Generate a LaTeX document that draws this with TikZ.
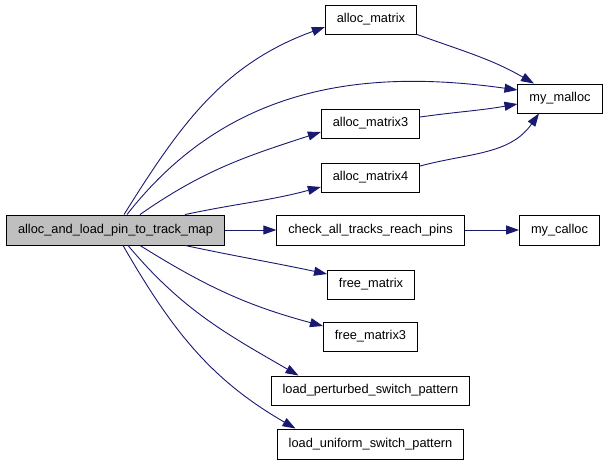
\documentclass[tikz,border=0pt]{standalone}
\usepackage{fontspec}
\setmainfont{Liberation Sans}
\usetikzlibrary{arrows.meta}
\definecolor{edgeblue}{RGB}{25,25,112}
\begin{document}
\begin{tikzpicture}[x=1pt,y=1pt,
    fn/.style={rectangle,draw,line width=0.9pt,minimum height=29pt,inner xsep=11.5pt,inner ysep=0pt,font=\fontsize{12.8}{15}\selectfont},
    call/.style={draw=edgeblue,line width=0.9pt,-{Triangle[length=13pt,width=9pt,fill=edgeblue]}}]
  \useasboundingbox (0,0) rectangle (608,464);
  \node[fn,fill=black!25,minimum height=30pt] (main) at (115.5,234) {alloc\_and\_load\_pin\_to\_track\_map};
  \node[fn] (amat) at (371,444.5) {alloc\_matrix};
  \node[fn] (malloc) at (560,365.5) {my\_malloc};
  \node[fn] (am3) at (370.5,340.5) {alloc\_matrix3};
  \node[fn] (am4) at (370.5,286.5) {alloc\_matrix4};
  \node[fn,minimum height=30pt] (check) at (370.5,234) {check\_all\_tracks\_reach\_pins};
  \node[fn,minimum height=30pt] (calloc) at (559.5,234) {my\_calloc};
  \node[fn] (fm) at (371,179.5) {free\_matrix};
  \node[fn] (fm3) at (370.5,127.5) {free\_matrix3};
  \node[fn] (lp) at (370.5,73.5) {load\_perturbed\_switch\_pattern};
  \node[fn,minimum height=30pt] (lu) at (370.5,20) {load\_uniform\_switch\_pattern};
  % calls from the main routine
  \draw[call] ([xshift=8.5pt]main.north) to[out=58,in=200] ([yshift=-7.5pt]amat.west);
  \draw[call] ([xshift=11.5pt]main.north) to[out=52,in=172] ([yshift=8.5pt]malloc.west);
  \draw[call] ([xshift=24.5pt]main.north) to[out=35,in=198] ([yshift=-8.5pt]am3.west);
  \draw[call] ([xshift=69.5pt]main.north) to[out=12,in=195] ([yshift=-9.5pt]am4.west);
  \draw[call] (main.east) -- (check.west);
  \draw[call] ([xshift=69.5pt]main.south) to[out=-12,in=168] ([yshift=10.5pt]fm.west);
  \draw[call] ([xshift=24.5pt]main.south) to[out=-32,in=165] ([yshift=10.5pt]fm3.west);
  \draw[call] ([xshift=12.5pt]main.south) to[out=-50,in=150] ([xshift=-72pt]lp.north);
  \draw[call] ([xshift=7.5pt]main.south) to[out=-60,in=150] ([xshift=-75pt]lu.north);
  % second level
  \draw[call] (amat.south east) to[out=-20,in=150] ([xshift=-26pt]malloc.north);
  \draw[call] ([yshift=6.5pt]am3.east) to[out=8,in=190] ([yshift=-5.5pt]malloc.west);
  \draw[call] ([yshift=11.5pt]am4.east) to[out=15,in=235] ([xshift=-21pt]malloc.south);
  \draw[call] (check.east) -- (calloc.west);
\end{tikzpicture}
\end{document}
